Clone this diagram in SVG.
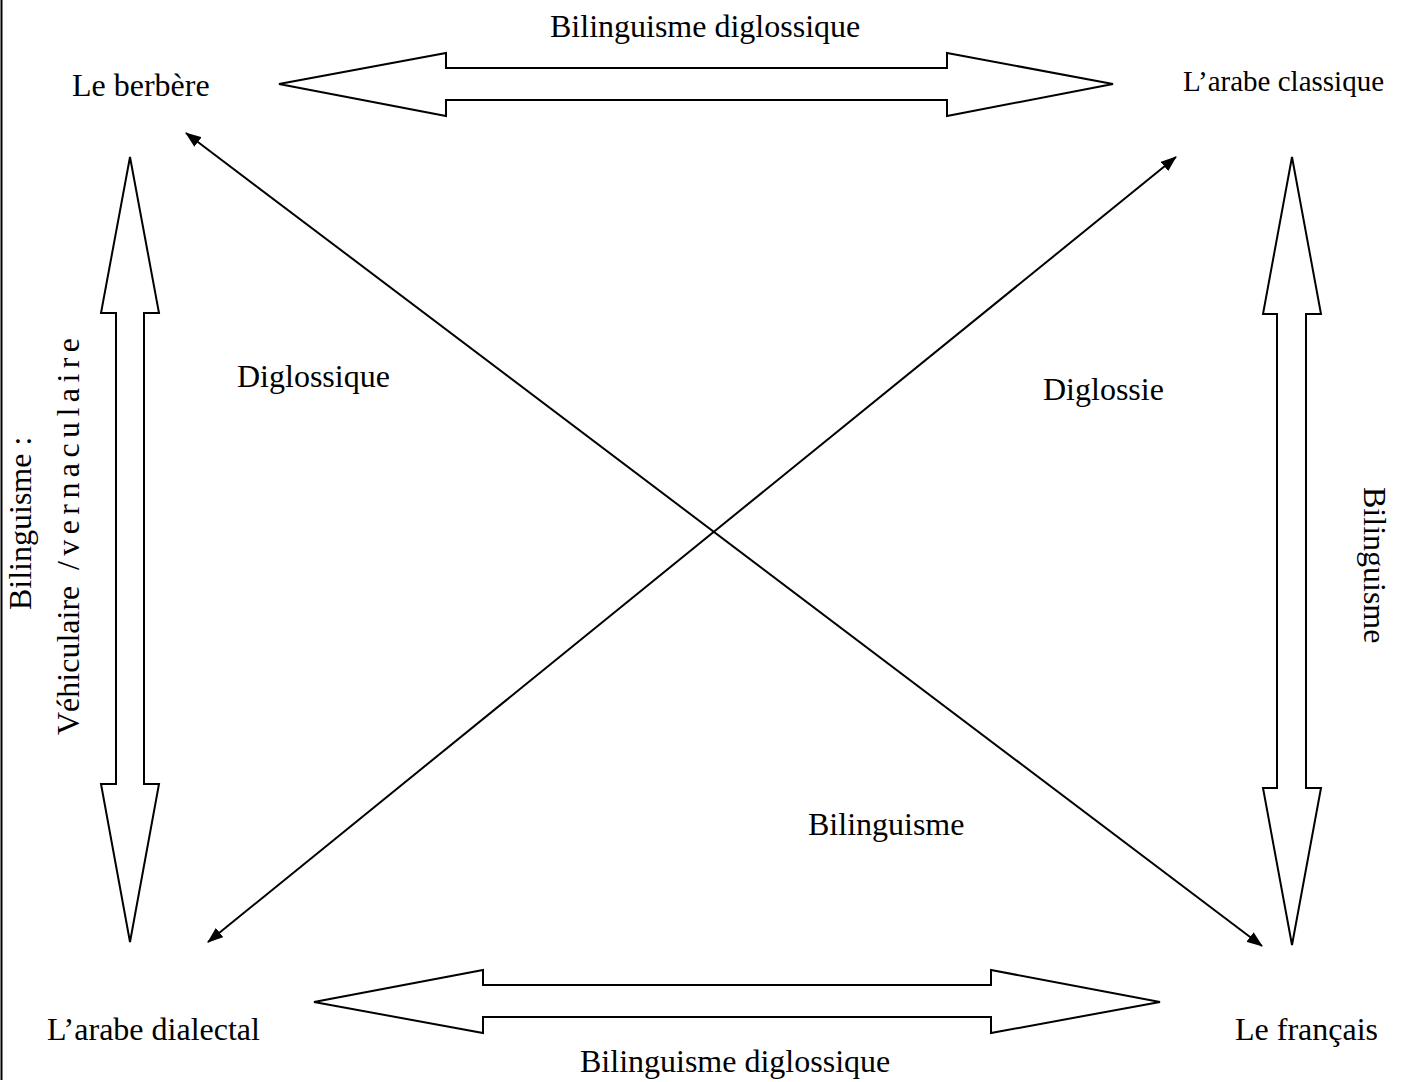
<svg xmlns="http://www.w3.org/2000/svg" width="1402" height="1082" viewBox="0 0 1402 1082">
<defs>
<style>
.t{font-family:"Liberation Serif","Times New Roman",serif;font-size:32px;fill:#000}
.blk{fill:#fff;stroke:#000;stroke-width:2;stroke-linejoin:miter}
.ln{stroke:#000;stroke-width:2;fill:none}
</style>
<marker id="ah" viewBox="0 0 16 12" refX="15" refY="6" markerWidth="16" markerHeight="12" markerUnits="userSpaceOnUse" orient="auto-start-reverse">
<path d="M0,0 L16,6 L0,12 Z" fill="#000"/>
</marker>
</defs>
<rect x="0" y="0" width="1402" height="1082" fill="#fff"/>
<line x1="1.5" y1="0" x2="1.5" y2="1080" stroke="#000" stroke-width="2"/>

<g id="connectors">
<polygon class="blk" points="279,84 446,53 446,68 947,68 947,53 1113,84 947,116 947,100 446,100 446,116"/>
<polygon class="blk" points="314,1002 483,970 483,985 991,985 991,970 1160,1002 991,1033 991,1017 483,1017 483,1033"/>
<polygon class="blk" points="130,157 159,313 144,313 144,784 159,784 130,942 101,784 116,784 116,313 101,313"/>
<polygon class="blk" points="1292,157 1321,314 1306,314 1306,788 1321,788 1292,945 1263,788 1277,788 1277,314 1263,314"/>
<line class="ln" x1="186" y1="133" x2="1262" y2="946" marker-start="url(#ah)" marker-end="url(#ah)"/>
<line class="ln" x1="1176" y1="157" x2="208" y2="942" marker-start="url(#ah)" marker-end="url(#ah)"/>
</g>

<g id="berbere"><text class="t" x="72" y="96">Le berbère</text></g>
<g id="arabe-classique"><text class="t" x="1183" y="91" style="font-size:29px">L’arabe classique</text></g>
<g id="arabe-dialectal"><text class="t" x="47" y="1040">L’arabe dialectal</text></g>
<g id="francais"><text class="t" x="1235" y="1040">Le français</text></g>

<g id="labels">
<text class="t" x="550" y="37">Bilinguisme diglossique</text>
<text class="t" x="580" y="1072">Bilinguisme diglossique</text>
<text class="t" x="237" y="387">Diglossique</text>
<text class="t" x="1043" y="400">Diglossie</text>
<text class="t" x="808" y="835">Bilinguisme</text>
<text class="t" transform="translate(1364,487) rotate(90)">Bilinguisme</text>
<text class="t" transform="translate(31,610) rotate(-90)">Bilinguisme :</text>
<text class="t" transform="translate(79,735) rotate(-90)">Véhiculaire</text>
<text class="t" transform="translate(79,570) rotate(-90)" textLength="232" lengthAdjust="spacing">/vernaculaire</text>
</g>
</svg>
